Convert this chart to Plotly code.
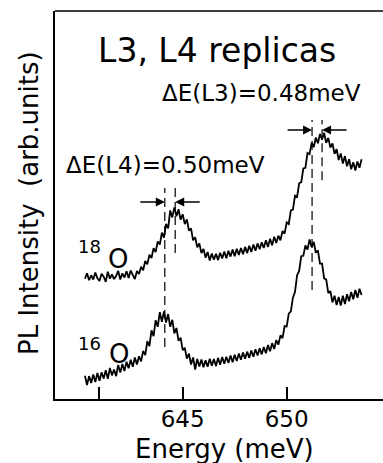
import numpy as np
import plotly.graph_objects as go

# Photon energy grid (meV), 0.1 meV steps
E_START, E_STEP = 640.3, 0.1

# PL intensity (arb. units) of the 18O sample
pl_18o = [
    31.0, 32.4, 30.6, 31.9, 30.8, 32.6, 31.1, 30.4, 32.3, 31.5,
    30.2, 32.8, 31.0, 32.1, 30.9, 31.7, 33.0, 30.8, 32.4, 31.3,
    32.9, 31.2, 33.1, 31.9, 30.9, 33.0, 32.2, 34.1, 33.2, 35.6,
    34.7, 37.2, 36.3, 38.9, 37.9, 40.6, 39.8, 42.9, 41.6, 45.1,
    44.0, 48.6, 46.8, 49.4, 47.1, 48.9, 46.2, 47.6, 45.1, 46.3,
    43.4, 44.0, 40.9, 41.7, 39.1, 40.1, 37.6, 38.7, 36.4, 37.9,
    35.7, 37.5, 35.9, 37.4, 35.8, 37.7, 36.2, 38.0, 36.3, 38.2,
    36.7, 38.5, 36.8, 38.7, 37.1, 38.9, 37.3, 39.2, 37.6, 39.5,
    37.9, 39.8, 38.2, 40.1, 38.6, 40.4, 38.9, 40.9, 39.2, 41.3,
    39.6, 41.8, 40.2, 42.1, 40.9, 43.3, 42.6, 45.5, 45.1, 48.6,
    48.8, 52.4, 52.1, 55.6, 55.9, 59.4, 59.6, 63.4, 63.1, 66.0,
    64.9, 67.4, 65.9, 68.3, 66.8, 68.6, 66.0, 67.3, 64.8, 65.9,
    63.2, 64.4, 61.6, 63.3, 60.7, 62.6, 60.0, 61.8, 59.2, 61.0,
    58.9, 61.2, 59.6, 61.8,
]

# PL intensity (arb. units) of the 16O sample
pl_16o = [
    6.0, 3.6, 5.9, 4.1, 6.3, 4.4, 6.7, 4.7, 6.9, 5.3,
    7.4, 5.2, 8.0, 6.1, 7.6, 5.9, 8.8, 6.8, 9.0, 7.2,
    9.6, 7.9, 10.1, 8.3, 10.7, 8.9, 11.0, 9.7, 12.4, 11.3,
    14.9, 13.6, 17.7, 16.2, 20.3, 18.6, 22.4, 19.9, 22.6, 19.7,
    21.9, 18.6, 20.4, 16.9, 18.3, 15.0, 15.8, 12.6, 13.2, 10.4,
    11.7, 8.9, 10.7, 7.6, 10.3, 8.4, 10.2, 8.2, 10.0, 8.3,
    10.4, 8.6, 10.3, 8.5, 10.6, 8.8, 10.8, 9.1, 10.9, 9.3,
    11.2, 9.5, 11.4, 9.8, 11.7, 10.1, 12.0, 10.4, 12.2, 10.6,
    12.5, 10.9, 12.8, 11.2, 13.1, 11.5, 13.4, 11.8, 13.9, 12.3,
    14.4, 12.9, 15.2, 14.0, 16.4, 15.7, 18.8, 18.7, 22.0, 22.6,
    26.1, 27.6, 31.9, 33.0, 36.8, 36.9, 39.6, 38.5, 41.1, 39.2,
    40.5, 37.7, 38.3, 34.9, 34.9, 31.1, 30.8, 27.3, 27.8, 24.9,
    26.6, 24.2, 26.3, 24.1, 26.6, 24.5, 27.0, 25.2, 27.6, 25.7,
    28.1, 26.1, 28.4, 26.8,
]

energy = np.round(E_START + E_STEP * np.arange(len(pl_18o)), 2)
assert len(pl_18o) == len(pl_16o)

# Replica line centres (meV) and isotope shifts
replicas = ["L4", "L3"]
line_centre = [644.39, 651.46]
delta_e = [0.50, 0.48]

# Axis ticks
tick_vals = [641, 645, 650]
tick_text = ["", "645", "650"]

FONT = "DejaVu Sans"
INK = "black"

fig = go.Figure()
for y in (pl_18o, pl_16o):
    fig.add_trace(go.Scatter(
        x=energy, y=y, mode="lines",
        line=dict(color=INK, width=1.8),
        showlegend=False, hoverinfo="skip",
    ))

# Dashed markers at the 16O / 18O peak positions
dash_spans = {
    "L4": [(13.4, 54.4), (37.6, 54.4)],
    "L3": [(28.1, 71.9), (56.4, 71.9)],
}
arrow_level = {"L4": 50.8, "L3": 69.3}
arrow_len = 1.25  # meV

annotations = []
for name, c, d in zip(replicas, line_centre, delta_e):
    lo, hi = c - d / 2, c + d / 2
    for xe, (y0, y1) in zip((lo, hi), dash_spans[name]):
        fig.add_shape(type="line", xref="x", yref="y", x0=xe, x1=xe, y0=y0, y1=y1,
                      line=dict(color=INK, width=1.2, dash="9px,5px"))
    ya = arrow_level[name]
    for head, tail in ((lo, lo - arrow_len), (hi, hi + arrow_len)):
        annotations.append(dict(
            x=head, y=ya, ax=tail, ay=ya, xref="x", yref="y", axref="x", ayref="y",
            text="", showarrow=True, arrowhead=2, arrowsize=1.2, arrowwidth=1.5,
            arrowcolor=INK, standoff=0,
        ))

# Frame line along the top
fig.add_shape(type="line", xref="paper", yref="paper", x0=0, x1=1, y0=1, y1=1,
              line=dict(color=INK, width=1.5))


def label(text, x, y, size, **kw):
    annotations.append(dict(
        text=text, x=x, y=y, xref="paper", yref="paper", showarrow=False,
        xanchor="center", yanchor="middle",
        font=dict(family=FONT, size=size, color=INK), **kw,
    ))


label("L3, L4 replicas", 0.494, 0.897, 33)
label("ΔE(L3)=0.48meV", 0.631, 0.789, 23)
label("ΔE(L4)=0.50meV", 0.338, 0.603, 23)
label("18", 0.1037, 0.393, 18)
label("O", 0.192, 0.362, 26)
label("16", 0.1067, 0.144, 18)
label("O", 0.195, 0.116, 26)
label("Energy (meV)", 0.518, -0.128, 26)
label("PL Intensity\u00a0\u00a0(arb.units)", -0.0793, 0.505, 26, textangle=-90)

fig.update_layout(
    width=383, height=463,
    margin=dict(l=55, r=0, t=11, b=64),
    paper_bgcolor="white", plot_bgcolor="white",
    annotations=annotations,
    xaxis=dict(
        range=[638.861, 654.630], showgrid=False, zeroline=False,
        showline=True, linecolor=INK, linewidth=1.5,
        tickmode="array", tickvals=tick_vals, ticktext=tick_text,
        ticks="inside", ticklen=12, tickwidth=1.5, tickcolor=INK,
        tickfont=dict(family=FONT, size=23, color=INK),
        ticklabelstandoff=-1,
    ),
    yaxis=dict(
        range=[0, 100], showgrid=False, zeroline=False,
        showline=True, linecolor=INK, linewidth=1.5,
        showticklabels=False, ticks="",
    ),
)

fig.write_html("out.html")
